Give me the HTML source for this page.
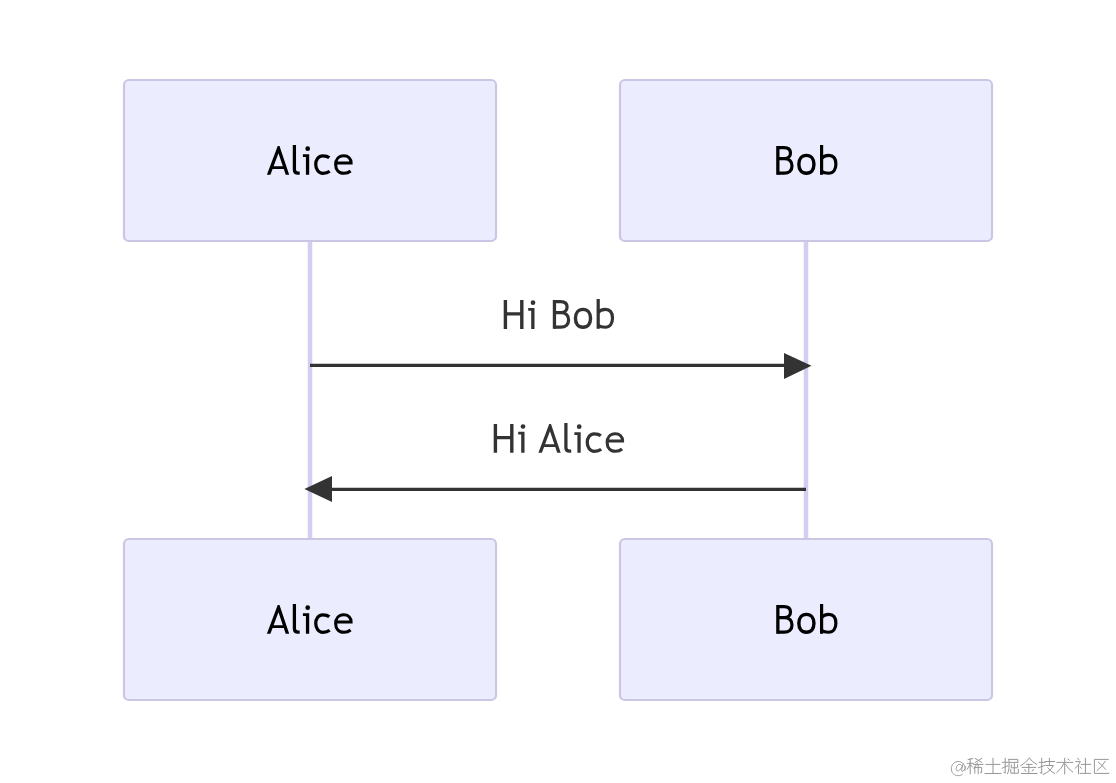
<!DOCTYPE html>
<html><head><meta charset="utf-8">
<style>
html,body{margin:0;padding:0;background:#fff;width:1116px;height:783px;overflow:hidden}
svg{display:block}
text{font-family:"Liberation Sans",sans-serif}
</style></head>
<body>
<svg width="1116" height="783" viewBox="0 0 1116 783">
<rect x="0" y="0" width="1116" height="783" fill="#ffffff"/>
<!-- lifelines -->
<line x1="310" y1="241" x2="310" y2="539" stroke="#d5ccf2" stroke-width="4.5"/>
<line x1="806" y1="241" x2="806" y2="539" stroke="#d5ccf2" stroke-width="4.5"/>
<!-- boxes -->
<g fill="#ececff" stroke="#cbc6e4" stroke-width="2.2">
<rect x="124" y="80" width="372" height="161" rx="4.8" ry="4.8"/>
<rect x="620" y="80" width="372" height="161" rx="4.8" ry="4.8"/>
<rect x="124" y="539" width="372" height="161" rx="4.8" ry="4.8"/>
<rect x="620" y="539" width="372" height="161" rx="4.8" ry="4.8"/>
</g>

<g fill="currentColor" color="#000">
<g>
<path fill-rule="evenodd" d="M266.9 174.8 L277.7 146 L279.5 146 L289.2 174.8 L285.7 174.8 L283.8 169 L272.6 169 L270.4 174.8 Z M278.46 153.3 L282.84 166.3 L273.6 166.3 Z"/>
<path fill="none" stroke="currentColor" stroke-width="3.25" d="M294.4 144.9 L294.4 169.4 Q294.4 173.05 298 173.05 L299.7 173.05"/>
<path d="M302.9 154.3 L309.2 154.3 L309.2 174.8 L305.9 174.8 L305.9 157 L302.9 157 Z"/>
<circle cx="307.7" cy="148.7" r="2.35"/>
<path fill="none" stroke="currentColor" stroke-width="3.25" d="M329.3 157.7 C327.8 156.3 325.4 155.75 322.8 155.75 C318.6 155.75 315.75 159.6 315.75 164.5 C315.75 169.5 318.6 173.25 322.8 173.25 C325.5 173.25 327.9 172.6 329.7 171.2"/>
<path fill="none" stroke="currentColor" stroke-width="3.1" d="M335.65 163 L351.05 163 C351.05 158.7 348.4 155.75 343.6 155.75 C338.8 155.75 335.65 159.4 335.65 164.5 C335.65 169.8 338.8 173.25 344 173.25 C346.8 173.25 348.9 172.4 350.6 171"/>
</g>
<g>
<path d="M776.2 146 L779.5 146 L779.5 174.8 L776.2 174.8 Z"/>
<path fill="none" stroke="currentColor" stroke-width="3.2" d="M778 147.6 L784 147.6 C788.4 147.6 790.5 150 790.5 153.1 C790.5 156.4 788.2 158.6 784.4 158.6 L778 158.6 M784.4 158.6 C789.4 158.6 792 161.6 792 165.9 C792 170.4 789 173.15 784.2 173.15 L778 173.15"/>
<path fill="none" stroke="currentColor" stroke-width="3.4" d="M806.4 155.35 C811.08 155.35 813.95 158.75 813.95 164.3 C813.95 169.85 811.08 173.25 806.4 173.25 C801.72 173.25 798.85 169.85 798.85 164.3 C798.85 158.75 801.72 155.35 806.4 155.35 Z"/>
<path d="M820 145 L823.2 145 L823.2 174.8 L820 174.8 Z"/>
<path fill="none" stroke="currentColor" stroke-width="3.2" d="M821.4 158.6 C823 156.5 825.6 155.35 828.8 155.35 C833.4 155.35 835.9 158.8 835.9 164.3 C835.9 169.8 833.2 173.25 828.6 173.25 C825.6 173.25 823.2 172.6 821.4 171.4"/>
</g>
<g transform="translate(0 459)">
<path fill-rule="evenodd" d="M266.9 174.8 L277.7 146 L279.5 146 L289.2 174.8 L285.7 174.8 L283.8 169 L272.6 169 L270.4 174.8 Z M278.46 153.3 L282.84 166.3 L273.6 166.3 Z"/>
<path fill="none" stroke="currentColor" stroke-width="3.25" d="M294.4 144.9 L294.4 169.4 Q294.4 173.05 298 173.05 L299.7 173.05"/>
<path d="M302.9 154.3 L309.2 154.3 L309.2 174.8 L305.9 174.8 L305.9 157 L302.9 157 Z"/>
<circle cx="307.7" cy="148.7" r="2.35"/>
<path fill="none" stroke="currentColor" stroke-width="3.25" d="M329.3 157.7 C327.8 156.3 325.4 155.75 322.8 155.75 C318.6 155.75 315.75 159.6 315.75 164.5 C315.75 169.5 318.6 173.25 322.8 173.25 C325.5 173.25 327.9 172.6 329.7 171.2"/>
<path fill="none" stroke="currentColor" stroke-width="3.1" d="M335.65 163 L351.05 163 C351.05 158.7 348.4 155.75 343.6 155.75 C338.8 155.75 335.65 159.4 335.65 164.5 C335.65 169.8 338.8 173.25 344 173.25 C346.8 173.25 348.9 172.4 350.6 171"/>
</g>
<g transform="translate(0 459)">
<path d="M776.2 146 L779.5 146 L779.5 174.8 L776.2 174.8 Z"/>
<path fill="none" stroke="currentColor" stroke-width="3.2" d="M778 147.6 L784 147.6 C788.4 147.6 790.5 150 790.5 153.1 C790.5 156.4 788.2 158.6 784.4 158.6 L778 158.6 M784.4 158.6 C789.4 158.6 792 161.6 792 165.9 C792 170.4 789 173.15 784.2 173.15 L778 173.15"/>
<path fill="none" stroke="currentColor" stroke-width="3.4" d="M806.4 155.35 C811.08 155.35 813.95 158.75 813.95 164.3 C813.95 169.85 811.08 173.25 806.4 173.25 C801.72 173.25 798.85 169.85 798.85 164.3 C798.85 158.75 801.72 155.35 806.4 155.35 Z"/>
<path d="M820 145 L823.2 145 L823.2 174.8 L820 174.8 Z"/>
<path fill="none" stroke="currentColor" stroke-width="3.2" d="M821.4 158.6 C823 156.5 825.6 155.35 828.8 155.35 C833.4 155.35 835.9 158.8 835.9 164.3 C835.9 169.8 833.2 173.25 828.6 173.25 C825.6 173.25 823.2 172.6 821.4 171.4"/>
</g>
</g>
<g fill="currentColor" color="#333">
<g>
<path d="M503.7 300.1 L507.1 300.1 L507.1 312.2 L520.1 312.2 L520.1 300.1 L523.5 300.1 L523.5 329 L520.1 329 L520.1 315.4 L507.1 315.4 L507.1 329 L503.7 329 Z"/>
<path d="M528.2 308 L534.5 308 L534.5 329 L531.2 329 L531.2 310.8 L528.2 310.8 Z"/>
<circle cx="533" cy="302.7" r="2.35"/>
</g>
<g transform="translate(-223.4 154)">
<path d="M776.2 146 L779.5 146 L779.5 174.8 L776.2 174.8 Z"/>
<path fill="none" stroke="currentColor" stroke-width="3.2" d="M778 147.6 L784 147.6 C788.4 147.6 790.5 150 790.5 153.1 C790.5 156.4 788.2 158.6 784.4 158.6 L778 158.6 M784.4 158.6 C789.4 158.6 792 161.6 792 165.9 C792 170.4 789 173.15 784.2 173.15 L778 173.15"/>
<path fill="none" stroke="currentColor" stroke-width="3.4" d="M806.4 155.35 C811.08 155.35 813.95 158.75 813.95 164.3 C813.95 169.85 811.08 173.25 806.4 173.25 C801.72 173.25 798.85 169.85 798.85 164.3 C798.85 158.75 801.72 155.35 806.4 155.35 Z"/>
<path d="M820 145 L823.2 145 L823.2 174.8 L820 174.8 Z"/>
<path fill="none" stroke="currentColor" stroke-width="3.2" d="M821.4 158.6 C823 156.5 825.6 155.35 828.8 155.35 C833.4 155.35 835.9 158.8 835.9 164.3 C835.9 169.8 833.2 173.25 828.6 173.25 C825.6 173.25 823.2 172.6 821.4 171.4"/>
</g>
<g transform="translate(-10 123.8)">
<path d="M503.7 300.1 L507.1 300.1 L507.1 312.2 L520.1 312.2 L520.1 300.1 L523.5 300.1 L523.5 329 L520.1 329 L520.1 315.4 L507.1 315.4 L507.1 329 L503.7 329 Z"/>
<path d="M528.2 308 L534.5 308 L534.5 329 L531.2 329 L531.2 310.8 L528.2 310.8 Z"/>
<circle cx="533" cy="302.7" r="2.35"/>
</g>
<g transform="translate(271.5 278)">
<path fill-rule="evenodd" d="M266.9 174.8 L277.7 146 L279.5 146 L289.2 174.8 L285.7 174.8 L283.8 169 L272.6 169 L270.4 174.8 Z M278.46 153.3 L282.84 166.3 L273.6 166.3 Z"/>
<path fill="none" stroke="currentColor" stroke-width="3.25" d="M294.4 144.9 L294.4 169.4 Q294.4 173.05 298 173.05 L299.7 173.05"/>
<path d="M302.9 154.3 L309.2 154.3 L309.2 174.8 L305.9 174.8 L305.9 157 L302.9 157 Z"/>
<circle cx="307.7" cy="148.7" r="2.35"/>
<path fill="none" stroke="currentColor" stroke-width="3.25" d="M329.3 157.7 C327.8 156.3 325.4 155.75 322.8 155.75 C318.6 155.75 315.75 159.6 315.75 164.5 C315.75 169.5 318.6 173.25 322.8 173.25 C325.5 173.25 327.9 172.6 329.7 171.2"/>
<path fill="none" stroke="currentColor" stroke-width="3.1" d="M335.65 163 L351.05 163 C351.05 158.7 348.4 155.75 343.6 155.75 C338.8 155.75 335.65 159.4 335.65 164.5 C335.65 169.8 338.8 173.25 344 173.25 C346.8 173.25 348.9 172.4 350.6 171"/>
</g>
</g>
<!-- arrows -->
<line x1="310" y1="365.3" x2="790" y2="365.3" stroke="#333" stroke-width="3.3"/>
<path d="M784 353 L811.5 365.8 L784 379 Z" fill="#333"/>
<line x1="806" y1="489.4" x2="326" y2="489.4" stroke="#333" stroke-width="3.3"/>
<path d="M332 476 L304.4 489 L332 502 Z" fill="#333"/>
<!-- watermark -->
<g fill="none" stroke="#969696" stroke-width="1.0" stroke-linecap="square">
<!-- @ -->
<g transform="translate(1.4 -0.2)">
<path d="M963.6 770.6 A7 7.2 0 1 0 961 774.6" stroke-width="0.9"/>
<path d="M961.6 764.2 L960.2 770 Q959.8 771.8 961.6 771.4 Q963.8 770.2 964.2 767" stroke-width="0.9"/>
<path d="M960.9 766.2 Q959.6 764 957.4 764.6 Q954.6 766 954.6 769.4 Q955 771.4 957 771 Q959.6 769.8 960.6 767" stroke-width="0.9"/>
</g>
<!-- 稀 -->
<path d="M968.2 759.5 L972.8 758.6"/>
<path d="M967.4 763.3 L973.2 763.3"/>
<path d="M970.2 759 L970.2 773.7"/>
<path d="M970 764.4 L967.3 769.2"/>
<path d="M970.6 765 L972.4 767"/>
<path d="M975.2 758.4 L981.8 762.4 M981.8 758.4 L975.2 762.4"/>
<path d="M973.4 764.4 L983 764.4"/>
<path d="M977.6 762.8 L974 768.4"/>
<path d="M974.8 767.2 L974.8 773.2 M975 767.4 L981.6 767.4 L981.6 772.8 L980.6 772.4 M978.2 765 L978.2 773.7"/>
<!-- 土 -->
<path d="M993 758.3 L993 773.4"/>
<path d="M986 764.4 L999.8 764.4"/>
<path d="M985.1 773.5 L1000.9 773.5"/>
<!-- 掘 -->
<path d="M1002.4 762.3 L1007.6 762.3"/>
<path d="M1005.2 758.3 L1005.2 773.2 L1004 772.4"/>
<path d="M1002.2 768.2 L1007.6 765.8"/>
<path d="M1009 759.4 L1017.8 759.4 L1017.8 762.4 M1009 762.4 L1017.8 762.4"/>
<path d="M1009 759.4 L1009 768 Q1008.8 771.5 1007.6 773.6"/>
<path d="M1011.3 764.8 L1011.3 767.8 L1017.6 767.8 L1017.6 764.8 M1014.3 763.6 L1014.3 773 M1010.8 769.4 L1010.8 773.2 L1018.4 773.2 L1018.4 769.4"/>
<!-- 金 -->
<path d="M1029.4 758.1 Q1026 762.6 1020.8 765.8"/>
<path d="M1029.4 758.1 Q1032.4 762.4 1036.6 764.4"/>
<path d="M1026.6 764.4 L1032 764.4"/>
<path d="M1022.2 767.4 L1035.8 767.4"/>
<path d="M1028.8 764.4 L1028.8 773.5"/>
<path d="M1024.8 769.6 L1025.8 771.4 M1033.4 769.4 L1032.2 771.2"/>
<path d="M1021.5 773.5 L1036.9 773.5"/>
<!-- 技 -->
<path d="M1039.2 762.4 L1045 762.4"/>
<path d="M1041.7 758.3 L1041.7 773.4 L1040.3 772.6"/>
<path d="M1038.6 767.6 L1045 765.4"/>
<path d="M1045 761.5 L1054.6 761.5"/>
<path d="M1049.4 758.3 L1049.4 764.7"/>
<path d="M1046 765.5 L1053.4 765.5 Q1050.4 771.6 1043.2 774.4"/>
<path d="M1047.8 767.8 Q1050.6 771.8 1054.6 773.5"/>
<!-- 术 -->
<path d="M1057.1 762.4 L1072.9 762.4"/>
<path d="M1064.7 758.3 L1064.7 774"/>
<path d="M1064 763.4 Q1061.2 769.2 1056.8 772.6"/>
<path d="M1065.6 764.4 Q1068.4 769.4 1072.6 771.9"/>
<path d="M1067.9 759 L1069.3 760.2"/>
<!-- 社 -->
<path d="M1077.7 758.3 L1079 759.8"/>
<path d="M1075.8 761.6 L1080.4 761.6 Q1078.6 765.6 1075.2 768.3"/>
<path d="M1078.5 765.6 L1078.5 773.7"/>
<path d="M1080.2 766.9 L1081.3 768.3"/>
<path d="M1085.4 758.3 L1085.4 773"/>
<path d="M1081.3 764.4 L1090.6 764.4"/>
<path d="M1080.2 773.4 L1090.6 773.4"/>
<!-- 区 -->
<path d="M1108.2 759.4 L1094.4 759.4 L1094.4 773.4 L1108.9 773.4"/>
<path d="M1105.3 761.2 Q1102 767 1097.1 770.5"/>
<path d="M1098.4 762.2 Q1102.4 765.4 1105.7 769.4"/>
</g>
</svg>
</body></html>
